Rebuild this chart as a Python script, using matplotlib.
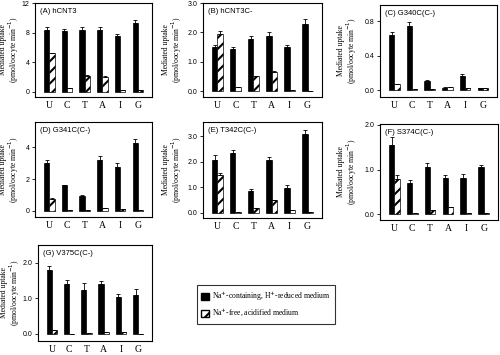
"""Mediated uptake of nucleosides by hCNT3 and its cysteine mutants."""
import matplotlib
matplotlib.use("Agg")
import matplotlib.pyplot as plt
import numpy as np
from matplotlib.patches import Patch

plt.rcParams["hatch.linewidth"] = 1.5
plt.rcParams["font.family"] = ["Liberation Serif", "DejaVu Serif"]

nucleosides = ["U", "C", "T", "A", "I", "G"]

panel_titles = ["(A) hCNT3", "(B) hCNT3C-", "(C) G340C(C-)", "(D) G341C(C-)",
                "(E) T342C(C-)", "(F) S374C(C-)", "(G) V375C(C-)"]

na_vals = [
    [8.4, 8.2, 8.4, 8.4, 7.6, 9.3],
    [1.50, 1.45, 1.78, 1.88, 1.50, 2.28],
    [0.64, 0.74, 0.11, 0.03, 0.17, 0.02],
    [3.0, 1.6, 0.9, 3.2, 2.75, 4.3],
    [2.05, 2.32, 0.85, 2.05, 0.97, 3.07],
    [1.55, 0.70, 1.05, 0.80, 0.80, 1.05],
    [1.80, 1.40, 1.23, 1.40, 1.03, 1.10],
]
na_err = [
    [0.3, 0.35, 0.35, 0.3, 0.25, 0.4],
    [0.08, 0.06, 0.09, 0.12, 0.07, 0.16],
    [0.04, 0.05, 0.01, 0.01, 0.02, 0.0],
    [0.2, 0.0, 0.1, 0.25, 0.25, 0.25],
    [0.22, 0.15, 0.1, 0.12, 0.1, 0.15],
    [0.18, 0.07, 0.1, 0.07, 0.1, 0.05],
    [0.1, 0.12, 0.2, 0.08, 0.08, 0.15],
]
h_vals = [
    [5.2, 0.5, 2.2, 2.0, 0.3, 0.2],
    [1.93, 0.15, 0.50, 0.65, 0.05, 0.0],
    [0.07, 0.01, 0.01, 0.04, 0.02, 0.02],
    [0.75, 0.02, 0.02, 0.2, 0.1, 0.05],
    [1.47, 0.05, 0.18, 0.52, 0.10, 0.03],
    [0.78, 0.02, 0.10, 0.15, 0.03, 0.03],
    [0.12, 0.01, 0.02, 0.04, 0.06, 0.0],
]
h_err = [
    [0.1, 0.0, 0.1, 0.1, 0.0, 0.0],
    [0.12, 0.0, 0.03, 0.05, 0.0, 0.0],
    [0.0, 0.0, 0.0, 0.0, 0.0, 0.0],
    [0.05, 0.0, 0.0, 0.0, 0.0, 0.0],
    [0.08, 0.0, 0.02, 0.0, 0.0, 0.0],
    [0.1, 0.0, 0.0, 0.0, 0.0, 0.0],
    [0.0, 0.0, 0.0, 0.0, 0.0, 0.0],
]
ylims = [(-0.7, 12), (-0.2, 3.0), (-0.08, 0.99), (-0.4, 5.6),
         (-0.2, 3.55), (-0.13, 2.02), (-0.2, 2.5)]
yticks = [[0, 4, 8, 12], [0.0, 1.0, 2.0, 3.0], [0.0, 0.4, 0.8], [0, 2, 4],
          [0.0, 1.0, 2.0, 3.0], [0.0, 1.0, 2.0], [0.0, 1.0, 2.0]]
yfmt = ["%d", "%.1f", "%.1f", "%d", "%.1f", "%.1f", "%.1f"]

W, H = 500, 355
# pixel boxes: left, right, top, bottom
boxes = [(35, 152, 3, 97), (203, 322, 3, 97), (380, 497, 5, 97),
         (35, 152, 122, 217), (203, 322, 122, 218), (380, 498, 124, 220),
         (38, 152, 245, 341)]
label_x = [10, 173, 348, 10, 173, 348, 11]  # ylabel centre, pixels

fig = plt.figure(figsize=(W / 100, H / 100), dpi=100)
x = np.arange(len(nucleosides))
bw = 0.3

for i, (l, r, t, b) in enumerate(boxes):
    ax = fig.add_axes([l / W, 1 - b / H, (r - l) / W, (b - t) / H])
    ax.bar(x - bw / 2, na_vals[i], bw, color="black", edgecolor="black",
           linewidth=0.5,
           yerr=[np.zeros(6), na_err[i]], error_kw=dict(lw=0.6, capsize=1.5, capthick=0.6))
    ax.bar(x + bw / 2, h_vals[i], bw, color="white", edgecolor="black",
           linewidth=0.5, hatch="///",
           yerr=[np.zeros(6), h_err[i]], error_kw=dict(lw=0.6, capsize=1.5, capthick=0.6))
    ax.set_xlim(-0.8, 5.8)
    ax.set_ylim(*ylims[i])
    ax.set_yticks(yticks[i])
    ax.set_yticklabels([yfmt[i] % v for v in yticks[i]], fontsize=5,
                       family=["Liberation Sans", "DejaVu Sans"])
    ax.set_xticks(x)
    ax.set_xticklabels(nucleosides, fontsize=7)
    ax.tick_params(axis="x", length=0, pad=3)
    ax.tick_params(axis="y", length=2, width=0.6, pad=2)
    for s in ax.spines.values():
        s.set_linewidth(0.8)
    ax.text(0.04, 0.95, panel_titles[i], transform=ax.transAxes, fontsize=5.5,
            va="top", ha="left", family=["Liberation Sans", "DejaVu Sans"])
    ax.set_ylabel("Mediated uptake\n(pmol/oocyte min$^{-1}$)", fontsize=5.5,
                  linespacing=1.0, va="center")
    ax.yaxis.set_label_coords((label_x[i] - l) / (r - l), 0.5)

handles = [Patch(facecolor="black", edgecolor="black", label="Na$^{+}$-containing, H$^{+}$-reduced medium"),
           Patch(facecolor="white", edgecolor="black", hatch="///", label="Na$^{+}$-free, acidified medium")]
leg = fig.legend(handles=handles, loc="upper left",
                 bbox_to_anchor=(193 / W, 1 - 281 / H), fontsize=5.5,
                 frameon=True, fancybox=False, edgecolor="black",
                 handlelength=1.0, handleheight=1.0, borderpad=0.6,
                 labelspacing=0.5, handletextpad=0.4)
leg.get_frame().set_linewidth(0.8)

fig.savefig("out.png", dpi=100)
